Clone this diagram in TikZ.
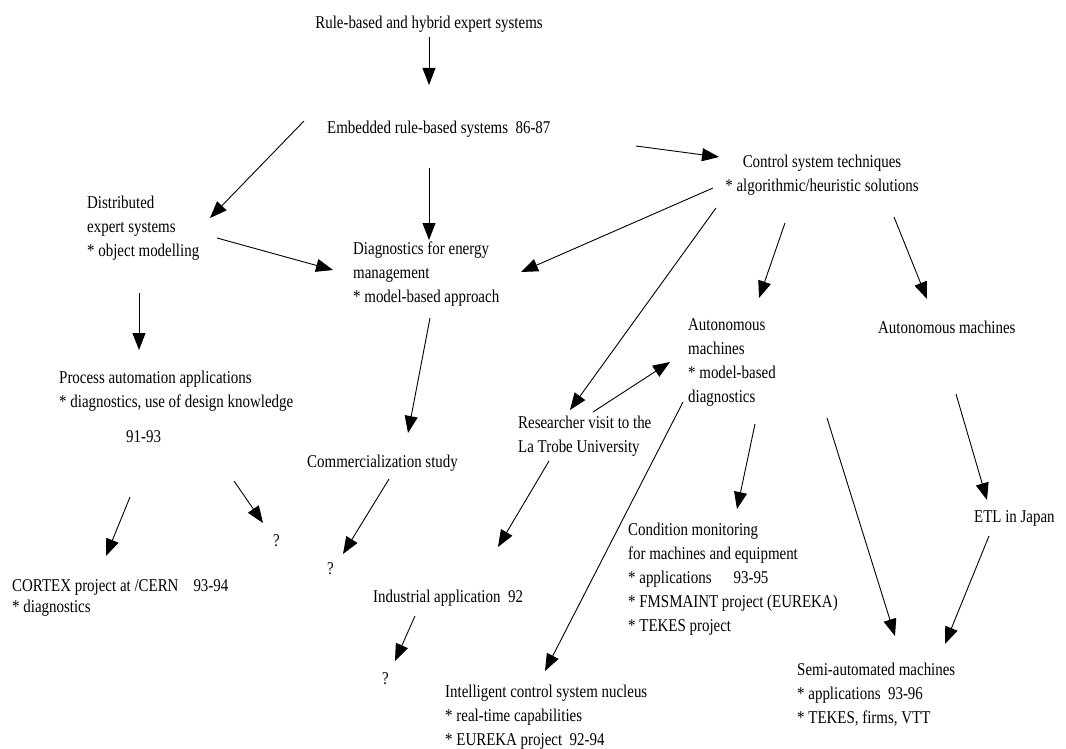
\documentclass[tikz,border=0pt]{standalone}
\usepackage{fontspec}
\usetikzlibrary{arrows.meta}
\newfontfamily\dfont[FakeStretch=0.83]{Liberation Serif}
\newcommand\figfont{\dfont\fontsize{18pt}{24pt}\selectfont}
\tikzset{
  txt/.style={anchor=north west, inner sep=0pt, align=left, font=\figfont},
  arr/.style={line width=0.9pt, -{Triangle[length=17pt,width=13pt]}}
}
\begin{document}
\begin{tikzpicture}[x=1pt,y=-1pt]
\useasboundingbox (0,0) rectangle (1066,749);
\node[txt, anchor=north] (rule) at (429,16) {Rule-based and hybrid expert systems};
\node[txt] (emb) at (327,121) {Embedded rule-based systems\ \ 86-87};
\node[txt, anchor=north, align=center] (ctl) at (822,155) {Control system techniques\\{}* algorithmic/heuristic solutions};
\node[txt] (dist) at (87,196) {Distributed\\expert systems\\{}* object modelling};
\node[txt] (diag) at (353,242) {Diagnostics for energy\\management\\{}* model-based approach};
\node[txt] (proc) at (59,371) {Process automation applications\\{}* diagnostics, use of design knowledge\\[11pt]\hspace*{67pt}91-93};
\node[txt] (comm) at (307,455) {Commercialization study};
\node[txt] (autl) at (688,318) {Autonomous\\machines\\{}* model-based\\diagnostics};
\node[txt] (autr) at (878,321) {Autonomous machines};
\node[txt] (res) at (518,416) {Researcher visit to the\\La Trobe University};
\node[txt] (cortex) at (12,579) {CORTEX project at /CERN\hspace{15pt}93-94\\[-3pt]{}* diagnostics};
\node[txt] (q1) at (273,534) {?};
\node[txt] (q2) at (327,562) {?};
\node[txt] (q3) at (382,672) {?};
\node[txt] (ind) at (373,590) {Industrial application\ \ 92};
\node[txt] (cond) at (628,523) {Condition monitoring\\for machines and equipment\\{}* applications\hspace{22pt}93-95\\{}* FMSMAINT project (EUREKA)\\{}* TEKES project};
\node[txt] (etl) at (974,510) {ETL in Japan};
\node[txt] (intel) at (445,685) {Intelligent control system nucleus\\{}* real-time capabilities\\{}* EUREKA project\ \ 92-94};
\node[txt] (semi) at (797,663) {Semi-automated machines\\{}* applications\ \ 93-96\\{}* TEKES, firms, VTT};

\draw[arr] ([shift={(0,21)}]rule.north) -- ([shift={(102,-36)}]emb.north west);
\draw[arr] ([shift={(-23,0)}]emb.north west) -- ([shift={(123,22)}]dist.north west);
\draw[arr] ([shift={(102,47)}]emb.north west) -- ([shift={(76,-2)}]diag.north west);
\draw[arr] ([shift={(309,25)}]emb.north west) -- ([shift={(-103,2)}]ctl.north);
\draw[arr] ([shift={(130,42)}]dist.north west) -- ([shift={(-20,28)}]diag.north west);
\draw[arr] ([shift={(-109,33)}]ctl.north) -- ([shift={(168,30)}]diag.north west);
\draw[arr] ([shift={(-106,53)}]ctl.north) -- ([shift={(52,-6)}]res.north west);
\draw[arr] ([shift={(-37,68)}]ctl.north) -- ([shift={(71,-20)}]autl.north west);
\draw[arr] ([shift={(72,62)}]ctl.north) -- ([shift={(49,-22)}]autr.north west);
\draw[arr] ([shift={(52,97)}]dist.north west) -- ([shift={(80,-21)}]proc.north west);
\draw[arr] ([shift={(77,76)}]diag.north west) -- ([shift={(101,-22)}]comm.north west);
\draw[arr] ([shift={(75,-4)}]res.north west) -- ([shift={(-18,44)}]autl.north west);
\draw[arr] ([shift={(-5,84)}]autl.north west) -- ([shift={(100,-14)}]intel.north west);
\draw[arr] ([shift={(67,106)}]autl.north west) -- ([shift={(109,-14)}]cond.north west);
\draw[arr] ([shift={(139,100)}]autl.north west) -- ([shift={(98,-27)}]semi.north west);
\draw[arr] ([shift={(78,73)}]autr.north west) -- ([shift={(13,-10)}]etl.north west);
\draw[arr] ([shift={(31,45)}]res.north west) -- ([shift={(125,-43)}]ind.north west);
\draw[arr] ([shift={(71,126)}]proc.north west) -- ([shift={(94,-23)}]cortex.north west);
\draw[arr] ([shift={(175,110)}]proc.north west) -- ([shift={(-10,-11)}]q1.north west);
\draw[arr] ([shift={(82,24)}]comm.north west) -- ([shift={(16,-8)}]q2.north west);
\draw[arr] ([shift={(42,26)}]ind.north west) -- ([shift={(13,-11)}]q3.north west);
\draw[arr] ([shift={(15,26)}]etl.north west) -- ([shift={(148,-19)}]semi.north west);
\end{tikzpicture}
\end{document}
